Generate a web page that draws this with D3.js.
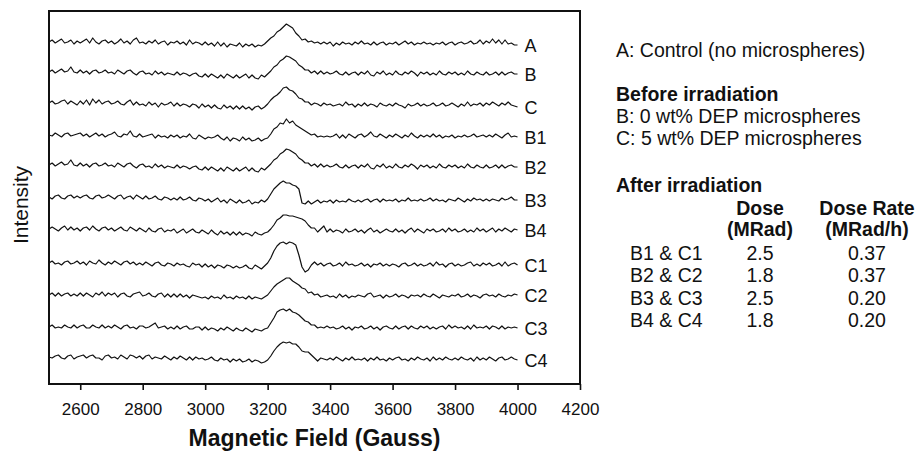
<!DOCTYPE html>
<html>
<head>
<meta charset="utf-8">
<script src="https://cdn.jsdelivr.net/npm/d3@7"></script>
<style>
  body { margin: 0; background: #fff; }
  svg { display: block; font-family: "Liberation Sans", Arial, Helvetica, sans-serif; }
  .trace { fill: none; stroke: #111; stroke-width: 1.2; stroke-linejoin: round; }
</style>
</head>
<body>
<div id="chart"></div>
<script>
// spectra are sampled every 10 G from 2500 to 4000 G (151 points, 10 per row)
const FIELD_START = 2500;
const FIELD_STEP = 10;

const traceNames = ["A", "B", "C", "B1", "B2", "B3", "B4", "C1", "C2", "C3", "C4"];
// vertical stacking offset of each spectrum (arbitrary intensity units)
const traceOffsets = [342, 312, 281, 249, 219, 187, 155, 121, 89, 57, 27];

const traceA = [
  0, 2, -1, 1, 3, -1, 0, 2, -2, 1,
  -1, 1, 3, -1, 4, 0, -2, 1, 2, -1,
  1, -2, 0, 3, -1, 1, -2, 2, 4, -1,
  0, -2, 1, -1, 2, -2, 0, 1, -3, 0,
  -1, 1, -2, 0, -3, 2, -2, 0, -1, -3,
  0, -3, -1, -4, 0, -4, -1, -5, -2, -3,
  -4, -1, -5, -2, -4, -2, -5, -3, -4, -2,
  1, 4, 6, 10, 12, 15, 18, 16, 14, 9,
  6, 2, 3, 0, 1, -1, 0, -2, 0, -2,
  0, -4, -1, -3, 0, -2, -1, -3, 0, -2,
  1, -2, -1, -3, 0, -3, -1, 0, -3, -1,
  -2, 0, -3, -1, 1, -2, 0, -3, -1, -2,
  0, -2, -1, -3, -1, -2, 0, -3, -1, 0,
  -3, -1, 0, -2, -1, 1, -2, -1, 2, -2,
  1, -1, 3, -1, 2, -2, 2, -2, -1, -3,
  -3
];

const traceB = [
  0, 2, -1, 1, 3, 0, 1, 5, 0, -1,
  2, -1, 1, -2, 1, 2, -1, 0, 2, -1,
  0, -2, 2, 0, -2, 1, 2, -1, -3, 0,
  1, -2, -1, -3, 1, -2, 0, -3, -1, -2,
  -3, 0, -3, -1, -2, -4, -2, -1, -4, -5,
  -2, -5, -2, -4, -6, -3, -6, -2, -4, -6,
  -3, -6, -4, -2, -6, -3, -6, -7, -3, -5,
  -2, 1, 5, 7, 11, 13, 16, 15, 13, 11,
  7, 5, 2, 2, -1, 1, -2, 1, -2, 0,
  -2, -1, 1, -2, -3, 0, -3, -1, 0, -3,
  0, -2, 1, -3, -4, 0, -2, 1, -3, -1,
  -3, 1, -2, -3, 0, -2, 1, -1, -4, 0,
  -2, 0, -3, -1, -3, 1, -2, -3, 0, -2,
  0, -3, -1, -3, 1, -2, -3, 0, -2, -3,
  0, -3, -2, 0, -3, 0, -3, -1, 0, -2,
  -2
];

const traceC = [
  0, 2, -1, 0, 2, 3, -1, 2, 0, -2,
  2, -1, 3, -2, 4, 0, 3, -1, 1, 2,
  -1, 0, 2, -1, -2, 1, 3, -2, 1, -2,
  -1, -3, 1, -2, 0, -4, 0, -2, -1, 1,
  -3, 0, -3, -1, -2, -4, -1, -2, -5, -1,
  -4, -2, -5, -2, -5, -6, -2, -5, -3, -6,
  -3, -6, -3, -6, -4, -7, -4, -3, -6, -4,
  -1, 3, 6, 8, 11, 15, 16, 13, 12, 9,
  5, 4, 1, 1, -2, 0, -1, -3, 0, -2,
  -1, -3, -2, -1, -3, 1, -2, -1, -4, -1,
  -3, 0, -3, -1, -2, -4, 0, -2, -3, -1,
  -3, 0, -2, -3, -5, -1, -3, -2, 0, -3,
  -1, -3, -2, 0, -3, -2, 0, -3, -2, 0,
  -2, -4, -1, -3, 1, -3, -1, -2, 0, -3,
  0, -2, 1, -1, -3, 0, -2, 1, -2, -3,
  -4
];

const traceB1 = [
  0, -1, 2, 0, -2, 1, 2, -1, 0, 1,
  2, -1, 1, -2, 0, 2, -1, 1, -2, 0,
  1, 3, -1, -2, 1, 0, 4, -1, -2, 1,
  -2, -1, 0, 1, -3, 0, -2, -1, -3, 0,
  -2, 0, -3, -1, -2, 1, -3, -4, 0, -2,
  -4, -2, -3, -2, 0, -3, -5, -2, -6, -3,
  -4, -6, -2, -5, -3, -6, -5, -3, -6, -4,
  -3, 1, 6, 8, 12, 11, 16, 12, 14, 10,
  8, 6, 4, 2, 0, 1, -2, -1, -2, -1,
  -2, -1, 1, -3, 0, -3, 1, -1, -3, 0,
  1, -2, 0, 3, -1, -2, 1, -1, -3, 0,
  -2, 1, -1, -3, 0, -2, 2, -1, -3, 0,
  -2, 0, -2, 1, -2, 0, -3, -1, -2, 0,
  -3, -1, -2, 0, -2, -1, 1, -2, -1, 0,
  -2, 0, -2, 1, -1, -3, 0, 2, -2, -1,
  -2
];

// B2 reads the same as B in the figure
const traceB2 = traceB.slice();

const traceB3 = [
  0, -2, 1, 2, -1, -2, 1, 2, -1, 1,
  -1, 1, 2, -1, -2, 1, 2, -1, 0, 2,
  0, -2, 1, 2, -2, 0, 1, -2, 2, 0,
  -2, 1, -2, -1, 1, -2, -3, 0, -1, -3,
  -1, -3, 0, -3, -2, 0, -3, -4, -1, -2,
  -4, -2, -5, -3, -1, -5, -3, -6, -2, -4,
  -6, -3, -6, -5, -3, -7, -5, -6, -3, -5,
  -2, 3, 8, 11, 14, 16, 14, 14, 12, 11,
  8, -6, -7, -4, -7, -5, -3, -6, -4, -5,
  -3, -6, -3, -5, -4, -5, -2, -4, -5, -3,
  -5, -3, -2, -5, -3, -2, -5, -2, -4, -3,
  -4, -2, -5, -3, -4, -1, -4, -3, -4, -2,
  -4, -3, -1, -4, -2, -4, -3, -5, -2, -3,
  -4, -1, -3, -5, -2, -4, -1, -3, -2, -4,
  -2, -4, -2, -3, -4, -1, -3, -2, 0, -3,
  -3
];

const traceB4 = [
  0, 2, 0, -2, 1, 3, -1, 2, -1, 1,
  -2, 1, 2, -1, 3, 0, -2, 1, 2, -1,
  1, -2, 0, 2, -1, -2, 2, 0, -2, 1,
  -1, -3, 1, -2, -3, 0, 1, -3, -1, -2,
  0, -4, -2, 0, -4, -2, 0, -3, -4, -1,
  -3, -5, -1, -4, -6, -2, -5, -3, -6, -3,
  -6, -3, -6, -4, -5, -7, -3, -5, -6, -4,
  -3, 0, 4, 9, 11, 14, 14, 13, 13, 12,
  11, 10, 8, 4, 1, 1, -3, 0, 3, -3,
  0, -3, -1, -2, -4, 0, -3, -2, 0, -3,
  -1, -4, -1, 1, -3, -1, -4, -2, 0, -2,
  -3, 0, -3, -1, -4, -1, 1, -3, 0, -2,
  -4, 0, -2, 0, -3, -2, 0, -3, 1, -2,
  0, -3, -2, 0, -3, -1, -3, 1, -2, 0,
  -3, -1, 1, -3, 0, -2, 1, -1, -3, 0,
  -1
];

const traceC1 = [
  0, 2, -1, 0, -2, 1, 2, -1, 0, 2,
  -1, 1, -2, 2, 0, -1, 3, 0, -2, 1,
  -1, 2, 0, -2, 1, 2, -1, 1, -2, 0,
  -2, 1, -1, -3, 0, 1, -2, -3, 0, -1,
  -3, 0, -2, -1, -3, -4, 0, -2, -1, -4,
  -1, -4, -2, -5, -2, -3, -5, -2, -3, -5,
  -3, -5, -4, -2, -5, -6, -2, -4, -6, -3,
  0, 5, 12, 17, 20, 21, 19, 21, 20, 18,
  8, -4, -9, -7, -2, 1, -2, 0, -3, -1,
  0, -3, -2, 0, -3, 1, -2, -1, -3, -2,
  0, -3, -1, -4, -1, -2, 0, -3, -1, -3,
  -1, -2, -4, -1, 0, -3, -2, 0, -3, -1,
  -3, -2, 0, -3, 1, -2, -1, -4, -1, 0,
  -3, -1, -3, -2, 0, 1, -3, -1, -3, 0,
  -2, 0, -3, -2, 0, -3, 1, -3, -1, 0,
  -2
];

const traceC2 = [
  0, 2, -1, 2, -1, 1, 2, -1, 1, -1,
  2, -1, 2, 0, -2, 2, 0, 3, -1, 2,
  0, 2, -2, 1, 2, -1, -2, 1, 2, 3,
  -1, 0, 2, -1, -2, 1, 2, -2, 1, -2,
  1, -2, 1, -2, 0, -3, 0, -1, -2, -3,
  -2, -4, -1, -3, -2, -4, 0, -3, -2, -4,
  -1, -3, -2, -4, -1, -4, -2, -3, -4, -2,
  0, 4, 8, 11, 13, 15, 17, 17, 14, 12,
  10, 7, 6, 2, 3, 0, 1, -2, -1, 0,
  -2, -1, -3, 1, -2, 0, -3, -1, -2, 0,
  -1, -2, 1, 2, -2, -1, 0, -3, 0, -2,
  -1, 1, -2, 0, -1, -3, 0, -1, 0, -2,
  1, -1, -2, 1, -1, -3, 0, -1, -2, 0,
  -1, 1, -2, -1, 1, -2, 0, -1, -3, 0,
  1, -1, 0, -2, 1, -1, -2, 0, -1, 1,
  0
];

const traceC3 = [
  0, 2, -1, 0, -1, 2, 0, -1, 2, -1,
  1, 2, -1, -1, 2, 0, -1, 2, -1, 1,
  -1, 2, 0, -2, 1, 2, -1, 0, -2, 1,
  1, -1, 0, 2, 4, -1, 0, 1, -2, 0,
  -2, 1, -2, 0, 1, -2, -2, 0, 0, -3,
  0, -3, -1, -2, -4, -1, -3, 0, -2, -4,
  -1, -3, -4, -1, -3, -5, -2, -3, -4, -2,
  -1, 4, 9, 15, 17, 18, 16, 18, 15, 14,
  12, 9, 6, 5, 2, 2, -1, 0, -1, 1,
  -1, 0, -2, -1, 1, -2, 0, -3, 0, -1,
  1, -2, -1, 1, -2, 0, -3, 0, 1, -1,
  -2, 1, -2, 0, 1, -2, 1, -1, -2, 1,
  -1, 1, -2, 0, -2, 0, 1, -2, 2, -1,
  1, -1, 0, -2, 1, -2, 2, -1, 0, -1,
  1, -2, 1, 0, -2, 1, -2, 0, -1, 0,
  -1
];

const traceC4 = [
  0, -1, 1, 2, -1, -2, 1, 2, -2, 0,
  1, 2, -1, 1, 2, -1, -1, -3, 1, 2,
  -1, 0, -2, 2, 0, -2, 2, 1, -1, 1,
  -2, 1, 2, -2, 0, -1, -2, 1, -1, -3,
  0, -2, 1, -1, -3, 0, -3, 0, -2, -1,
  -3, -2, 0, -3, -4, -1, -3, -2, -5, -2,
  -4, -2, -5, -4, -2, -5, -3, -4, -6, -5,
  -3, 1, 6, 10, 13, 15, 14, 15, 13, 13,
  10, 6, 5, 5, 2, -1, -4, -1, -2, -3,
  -1, -3, 0, -2, -4, -1, -3, 0, -3, -2,
  -3, -1, -4, -1, -3, 0, -3, -2, -4, -1,
  -3, -1, 0, -3, -2, -4, -1, -3, 0, -2,
  -3, -1, -4, 0, -3, -1, -3, 0, -2, -3,
  -1, -3, 0, -2, -3, -1, -4, 0, -3, -1,
  -3, 0, -2, -4, -1, 0, -3, -2, 0, -2,
  -3
];

const traceValues = [traceA, traceB, traceC, traceB1, traceB2, traceB3, traceB4,
  traceC1, traceC2, traceC3, traceC4];

const xTicks = [2600, 2800, 3000, 3200, 3400, 3600, 3800, 4000, 4200];

const doseRows = ["B1 & C1", "B2 & C2", "B3 & C3", "B4 & C4"];
const doseValues = ["2.5", "1.8", "2.5", "1.8"];
const doseRates = ["0.37", "0.37", "0.20", "0.20"];

function drawChart() {
  var width = 917;
  var height = 452;
  var plot = { left: 49, top: 11, right: 580, bottom: 384 };

  var svg = d3
    .select("#chart")
    .append("svg")
    .attr("width", width)
    .attr("height", height);

  var xScale = d3.scaleLinear().domain([2500, 4200]).range([plot.left, plot.right]);
  var yScale = d3.scaleLinear().domain([0, 373]).range([plot.bottom, plot.top]);

  var line = d3
    .line()
    .x(function (d, i) {
      return xScale(FIELD_START + i * FIELD_STEP);
    })
    .y(function (d) {
      return yScale(d);
    });

  // stacked spectra
  traceValues.forEach(function (values, k) {
    var shifted = values.map(function (v) {
      return v + traceOffsets[k];
    });
    svg.append("path").attr("class", "trace").attr("d", line(shifted));

    var lastField = FIELD_START + (values.length - 1) * FIELD_STEP;
    svg
      .append("text")
      .attr("x", xScale(lastField) + 7)
      .attr("y", yScale(shifted[shifted.length - 1]) + 1)
      .attr("dy", "0.35em")
      .attr("font-size", "18px")
      .attr("fill", "#111")
      .text(traceNames[k]);
  });

  // frame
  svg
    .append("rect")
    .attr("x", plot.left)
    .attr("y", plot.top)
    .attr("width", plot.right - plot.left)
    .attr("height", plot.bottom - plot.top)
    .attr("fill", "none")
    .attr("stroke", "#111")
    .attr("stroke-width", 2);

  var axis = svg
    .append("g")
    .attr("transform", "translate(0," + plot.bottom + ")")
    .call(d3.axisBottom(xScale).tickValues(xTicks).tickSize(6).tickSizeOuter(0).tickFormat(d3.format("d")));
  axis.select(".domain").remove();
  axis.selectAll(".tick line").attr("stroke", "#111").attr("stroke-width", 1.6);
  axis
    .selectAll(".tick text")
    .attr("y", 31)
    .attr("dy", 0)
    .attr("font-size", "17px")
    .attr("font-family", "Liberation Sans, Arial, sans-serif")
    .attr("fill", "#111");

  svg
    .append("text")
    .attr("x", (plot.left + plot.right) / 2)
    .attr("y", 446)
    .attr("text-anchor", "middle")
    .attr("font-size", "23px")
    .attr("font-weight", "bold")
    .attr("fill", "#111")
    .text("Magnetic Field (Gauss)");

  svg
    .append("text")
    .attr("transform", "translate(28,205) rotate(-90)")
    .attr("text-anchor", "middle")
    .attr("font-size", "21px")
    .attr("fill", "#111")
    .text("Intensity");

  // legend text block
  var legend = svg.append("g").attr("font-size", "19.5px").attr("fill", "#111");
  var lx = 616;

  legend.append("text").attr("x", lx).attr("y", 57).text("A: Control (no microspheres)");
  legend.append("text").attr("x", lx).attr("y", 101).attr("font-weight", "bold").text("Before irradiation");
  legend.append("text").attr("x", lx).attr("y", 123).text("B: 0 wt% DEP microspheres");
  legend.append("text").attr("x", lx).attr("y", 145).text("C: 5 wt% DEP microspheres");
  legend.append("text").attr("x", lx).attr("y", 192).attr("font-weight", "bold").text("After irradiation");

  var colDose = 760;
  var colRate = 867;
  [["Dose", "Dose Rate", 215], ["(MRad)", "(MRad/h)", 236]].forEach(function (h) {
    legend.append("text").attr("x", colDose).attr("y", h[2]).attr("text-anchor", "middle").attr("font-weight", "bold").text(h[0]);
    legend.append("text").attr("x", colRate).attr("y", h[2]).attr("text-anchor", "middle").attr("font-weight", "bold").text(h[1]);
  });

  doseRows.forEach(function (name, i) {
    var y = 260 + i * 22.3;
    legend.append("text").attr("x", 630).attr("y", y).text(name);
    legend.append("text").attr("x", colDose).attr("y", y).attr("text-anchor", "middle").text(doseValues[i]);
    legend.append("text").attr("x", colRate).attr("y", y).attr("text-anchor", "middle").text(doseRates[i]);
  });
}

drawChart();
</script>
</body>
</html>
